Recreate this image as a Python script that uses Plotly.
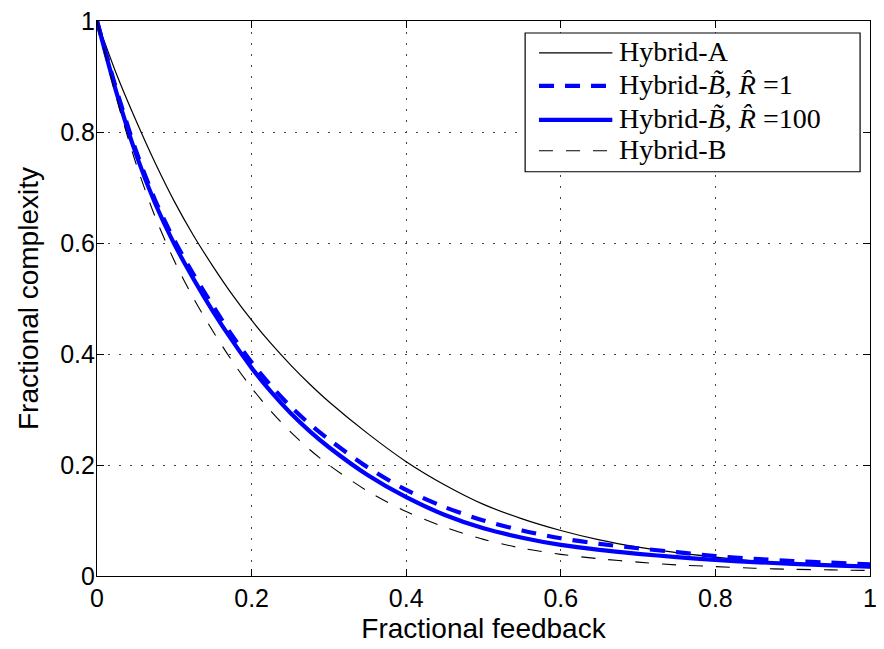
import plotly.graph_objects as go

# ---- data ----
x_vals = [0, 0.025, 0.05, 0.075, 0.1, 0.125, 0.15, 0.175, 0.2, 0.225, 0.25, 0.275, 0.3,
          0.35, 0.4, 0.45, 0.5, 0.55, 0.6, 0.65, 0.7, 0.75, 0.8, 0.85, 0.9, 0.95, 1.0]
hybrid_a = [1.0, 0.905, 0.822, 0.745, 0.675, 0.613, 0.558, 0.507, 0.461, 0.419, 0.381, 0.346, 0.314,
            0.257, 0.206, 0.164, 0.129, 0.103, 0.082, 0.065, 0.052, 0.042, 0.034, 0.027, 0.022, 0.018, 0.015]
hybrid_bt_r1 = [1.0, 0.877, 0.768, 0.678, 0.605, 0.543, 0.487, 0.433, 0.385, 0.343, 0.306, 0.274, 0.246,
                0.196, 0.155, 0.124, 0.100, 0.082, 0.068, 0.058, 0.050, 0.043, 0.036, 0.031, 0.027, 0.024, 0.021]
hybrid_bt_r100 = [1.0, 0.872, 0.762, 0.672, 0.598, 0.535, 0.477, 0.424, 0.375, 0.332, 0.294, 0.261, 0.232,
                  0.182, 0.142, 0.110, 0.086, 0.069, 0.056, 0.047, 0.040, 0.034, 0.029, 0.025, 0.022, 0.019, 0.017]
hybrid_b = [1.0, 0.862, 0.745, 0.648, 0.568, 0.5, 0.441, 0.387, 0.339, 0.297, 0.26, 0.228, 0.2,
            0.153, 0.116, 0.088, 0.066, 0.050, 0.039, 0.031, 0.025, 0.020, 0.017, 0.014, 0.012, 0.011, 0.010]

tick_vals = [0, 0.2, 0.4, 0.6, 0.8, 1]
tick_text = ["0", "0.2", "0.4", "0.6", "0.8", "1"]

series_names = [
    "Hybrid-A",
    "Hybrid-<i>B\u0303</i>, <i>R\u0302</i> =1",
    "Hybrid-<i>B\u0303</i>, <i>R\u0302</i> =100",
    "Hybrid-B",
]
series_data = [hybrid_a, hybrid_bt_r1, hybrid_bt_r100, hybrid_b]
series_color = ["black", "#0000ff", "#0000ff", "black"]
series_width = [1.2, 4.2, 4.2, 1.1]
series_dash = ["solid", "15px,11px", "solid", "14px,13px"]

fig = go.Figure()
for name, ys, c, w, d in zip(series_names, series_data, series_color, series_width, series_dash):
    fig.add_trace(go.Scatter(x=x_vals, y=ys, mode="lines", name=name,
                             line=dict(color=c, width=w, dash=d, shape="spline", smoothing=0.8),
                             showlegend=False))

W, H = 884, 649
ML, MR, MT, MB = 97, 7, 20, 73
PW, PH = W - ML - MR, H - MT - MB

def px_to_paper(px, py):
    return (px - ML) / PW, (H - MB - py) / PH

axis_common = dict(
    range=[0, 1], tickvals=tick_vals, ticktext=tick_text,
    showline=True, linecolor="black", linewidth=1.2, mirror="allticks",
    ticks="inside", ticklen=7, tickcolor="black", tickwidth=1,
    showgrid=True, gridcolor="#444444", gridwidth=1, griddash="1.5px,9.5px",
    zeroline=False,
    tickfont=dict(family="Liberation Sans, Arial", size=25, color="black"),
)

fig.update_layout(
    width=W, height=H,
    margin=dict(l=ML, r=MR, t=MT, b=MB, pad=0),
    paper_bgcolor="white", plot_bgcolor="white",
    xaxis=dict(**axis_common,
               title=dict(text="Fractional feedback", standoff=7,
                          font=dict(family="Liberation Sans, Arial", size=28, color="black"))),
    yaxis=dict(**axis_common, ticklabelstandoff=-4,
               title=dict(text="Fractional complexity", standoff=13,
                          font=dict(family="Liberation Sans, Arial", size=28, color="black"))),
)

# ---- manual legend (long line samples like the reference) ----
bx0, by0 = px_to_paper(529, 32)
bx1, by1 = px_to_paper(867, 171)
fig.add_shape(type="rect", xref="paper", yref="paper", x0=bx0, y0=by1, x1=bx1, y1=by0,
              line=dict(color="black", width=1.2), fillcolor="white", layer="above")
row_py = [52, 85, 119, 150]
for name, c, w, d, py in zip(series_names, series_color, series_width, series_dash, row_py):
    lx0, ly = px_to_paper(543, py)
    lx1, _ = px_to_paper(617, py)
    fig.add_shape(type="line", xref="paper", yref="paper", x0=lx0, y0=ly, x1=lx1, y1=ly,
                  line=dict(color=c, width=w, dash=d), layer="above")
    tx, ty = px_to_paper(622, py - 1)
    fig.add_annotation(xref="paper", yref="paper", x=tx, y=ty, text=name, showarrow=False,
                       xanchor="left", yanchor="middle",
                       font=dict(family="Liberation Serif, Times New Roman", size=28, color="black"))

fig.write_html("out.html")
